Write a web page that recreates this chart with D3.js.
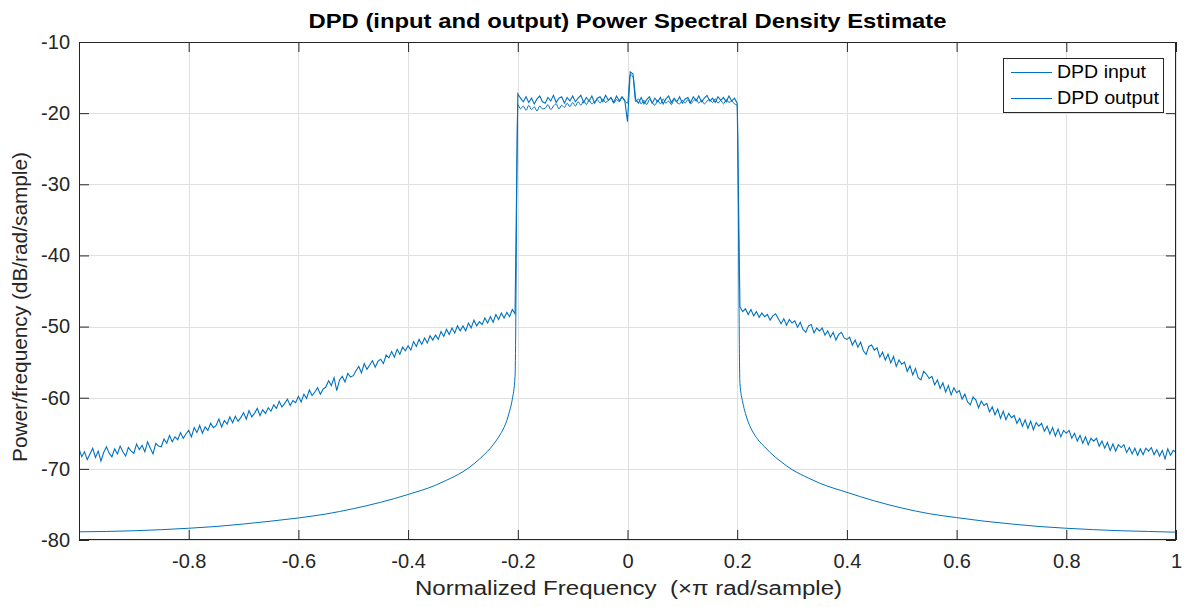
<!DOCTYPE html>
<html>
<head>
<meta charset="utf-8">
<script src="https://cdn.jsdelivr.net/npm/d3@7"></script>
<style>
  html, body { margin: 0; padding: 0; background: #ffffff; }
  svg { display: block; }
  text { font-family: "Liberation Sans", Arial, Helvetica, sans-serif; }
</style>
</head>
<body>
<svg id="chart" width="1185" height="607"></svg>
<script>
// ---------------- DATA ----------------
const titleText = "DPD (input and output) Power Spectral Density Estimate";
const xLabelText = "Normalized Frequency  (\u00D7\u03C0 rad/sample)";
const yLabelText = "Power/frequency (dB/rad/sample)";
const seriesNames = ["DPD input", "DPD output"];

const xTicks = [-0.8, -0.6, -0.4, -0.2, 0, 0.2, 0.4, 0.6, 0.8, 1];
const xTickLabels = ["-0.8", "-0.6", "-0.4", "-0.2", "0", "0.2", "0.4", "0.6", "0.8", "1"];
const yTicks = [-80, -70, -60, -50, -40, -30, -20, -10];
const yTickLabels = ["-80", "-70", "-60", "-50", "-40", "-30", "-20", "-10"];

// frequency grid step (x pi rad/sample) of the estimate
const gridStep = 0.005;

// DPD output: 401 points on the grid -1 ... 1
const outputLeft = [
  -67.2, -68.3, -67.6, -68.7, -67.9, -67.1, -68.4, -67.5, -68.9, -67.7,
  -66.9, -67.8, -68.3, -67.2, -67.9, -66.8, -67.6, -68.2, -67.0, -67.5,
  -67.8, -66.5, -67.3, -66.7, -67.6, -66.2, -67.1, -67.9, -66.4, -66.8,
  -66.9, -65.8, -66.4, -65.3, -66.2, -65.5, -65.9, -64.9, -65.7, -65.1,
  -64.6, -65.5, -64.2, -64.9, -63.9, -65.0, -64.1, -64.6, -63.6, -64.2,
  -63.9, -63.0, -64.1, -63.2, -63.7, -62.7, -63.5, -62.6, -63.3, -62.8,
  -62.1, -63.0, -61.8, -62.7, -62.2, -61.5, -62.5, -61.7, -62.2, -61.4,
  -61.9, -61.0, -61.5, -60.5, -61.3, -60.8, -60.2, -61.1, -60.4, -60.7,
  -59.8, -60.6, -59.5, -60.1, -58.9, -59.7, -59.2, -58.6, -59.5, -58.8,
  -58.5, -57.6, -58.3, -57.2, -59.0, -57.5, -57.0, -57.8, -56.6, -57.1,
  -56.9, -56.2, -55.6, -56.5, -55.2, -56.0, -55.4, -54.8, -55.7, -54.9,
  -54.6, -55.2, -54.0, -54.4, -53.5, -54.3, -53.2, -53.9, -52.9, -53.4,
  -52.7, -53.3, -52.1, -52.8, -51.8, -52.5, -51.6, -52.3, -51.3, -51.9,
  -51.2, -51.8, -50.7, -51.4, -50.4, -51.1, -50.2, -50.9, -49.9, -50.6,
  -49.9, -50.6, -49.5, -50.2, -49.1, -49.9, -49.3, -49.7, -48.8, -49.5,
  -48.6, -49.4, -48.3, -49.0, -48.1, -48.8, -48.0, -48.6, -47.6, -48.2
];
const outputBand = [
  -17.3, -17.9, -18.4, -17.7, -18.5, -17.9, -18.7, -18.0, -17.6, -18.4,
  -18.6, -17.8, -18.3, -17.5, -18.5, -17.9, -17.7, -18.6, -17.8, -18.3,
  -17.6, -18.4, -17.9, -17.5, -18.5, -17.8, -18.3, -17.6, -18.6, -17.9,
  -17.7, -18.4, -17.5, -18.2, -17.8, -18.5, -17.6, -18.3, -17.7, -18.2,
  -21.2,
  -14.2, -14.5, -18.1, -18.6, -17.8, -18.7, -18.1, -17.7, -18.6, -17.9,
  -18.4, -17.8, -18.7, -18.0, -17.6, -18.5, -17.9, -18.4, -17.7, -18.6,
  -18.0, -17.8, -18.5, -17.7, -18.3, -17.6, -18.4, -17.9, -17.5, -18.3,
  -17.9, -18.5, -17.7, -18.2, -17.8, -18.4, -17.6, -18.3, -17.9, -18.6
];
const outputRight = [
  -47.2, -47.9, -47.5, -48.3, -47.6, -48.5, -47.9, -48.7, -48.1, -48.6,
  -48.3, -49.1, -48.5, -48.2, -48.9, -49.6, -48.9, -49.8, -49.0, -49.5,
  -49.2, -50.1, -49.4, -50.4, -50.8, -49.9, -49.7, -50.9, -50.2, -50.6,
  -50.2, -51.2, -50.6, -51.5, -50.8, -51.9, -51.1, -50.8, -51.6, -51.8,
  -51.5, -52.6, -51.9, -52.9, -52.2, -53.4, -53.9, -52.8, -52.6, -53.3,
  -53.0, -54.3, -53.6, -54.7, -53.9, -55.1, -54.2, -55.6, -54.7, -55.3,
  -55.0, -56.3, -55.5, -56.8, -55.9, -57.2, -57.5, -56.3, -56.7, -57.3,
  -57.0, -58.2, -57.5, -58.7, -57.9, -59.2, -58.3, -59.6, -58.6, -59.3,
  -59.0, -60.2, -59.5, -60.6, -61.0, -59.9, -60.3, -61.4, -60.5, -61.1,
  -60.8, -62.0, -61.3, -62.4, -61.6, -62.9, -61.9, -63.1, -62.2, -62.8,
  -62.5, -63.6, -62.9, -64.0, -63.1, -64.3, -63.3, -64.5, -63.5, -64.0,
  -63.6, -64.7, -64.0, -65.1, -64.2, -65.4, -64.4, -65.5, -64.6, -65.0,
  -64.6, -65.7, -65.0, -66.1, -65.3, -66.4, -65.5, -66.6, -65.7, -66.1,
  -65.7, -66.8, -66.1, -67.1, -66.3, -67.4, -66.5, -67.5, -66.6, -67.0,
  -66.6, -67.7, -67.0, -67.9, -67.1, -68.1, -67.2, -68.0, -67.1, -67.5,
  -67.0, -68.0, -67.3, -68.2, -67.4, -68.6, -67.2, -68.1, -67.4, -67.7
];

// DPD input: smooth skirts (read at chosen frequencies) + in-band grid values
const inputLeftFreq = [-1.0, -0.95, -0.9, -0.85, -0.8, -0.75, -0.7, -0.65, -0.6, -0.55, -0.5, -0.45, -0.4, -0.35, -0.33, -0.3, -0.28, -0.26, -0.25, -0.24, -0.23, -0.22, -0.215, -0.21, -0.205];
const inputLeftPsd  = [-78.85, -78.8, -78.7, -78.55, -78.35, -78.1, -77.75, -77.35, -76.9, -76.35, -75.6, -74.7, -73.6, -72.3, -71.6, -70.4, -69.3, -67.9, -67.1, -66.1, -64.9, -63.2, -61.9, -60.2, -57.0];
const inputBand = [
  -18.8, -19.4, -19.0, -19.6, -18.9, -19.5, -19.1, -19.7, -19.0, -19.4,
  -19.3, -18.8, -19.5, -19.0, -18.7, -19.4, -18.9, -19.2, -18.6, -19.1,
  -18.5, -19.0, -18.4, -18.9, -18.3, -18.8, -18.2, -18.7, -18.4, -18.1,
  -18.6, -18.0, -18.5, -18.2, -17.9, -18.6, -18.1, -18.4, -17.8, -18.3,
  -18.6,
  -14.6, -14.9, -18.4, -18.0, -18.7, -18.2, -18.8, -18.1, -18.5, -18.9,
  -18.2, -18.7, -18.0, -18.6, -18.3, -18.8, -18.1, -18.5, -18.7, -18.2,
  -18.6, -18.1, -18.7, -18.3, -18.0, -18.6, -18.2, -18.7, -18.3, -18.1,
  -18.5, -18.0, -18.6, -18.2, -18.7, -18.1, -18.5, -18.3, -18.7, -18.9
];
const inputRightFreq = [0.205, 0.21, 0.215, 0.22, 0.23, 0.24, 0.25, 0.26, 0.28, 0.3, 0.33, 0.35, 0.4, 0.45, 0.5, 0.55, 0.6, 0.65, 0.7, 0.75, 0.8, 0.85, 0.9, 0.95, 1.0];
const inputRightPsd  = [-58.0, -60.6, -62.2, -63.4, -65.0, -66.1, -66.9, -67.7, -69.0, -70.1, -71.3, -72.0, -73.3, -74.5, -75.5, -76.3, -76.85, -77.35, -77.75, -78.1, -78.35, -78.55, -78.7, -78.8, -78.9];

// ---------------- BUILD SERIES ----------------
const outputPsd = outputLeft.concat(outputBand, outputRight);
const outputFreq = outputPsd.map((_, i) => +(-1 + i * gridStep).toFixed(3));
const bandFreq = inputBand.map((_, i) => +(-0.2 + i * gridStep).toFixed(3));
const inputFreq = inputLeftFreq.concat(bandFreq, inputRightFreq);
const inputPsd = inputLeftPsd.concat(inputBand, inputRightPsd);

const inputData = inputFreq.map((f, i) => ({ f, v: inputPsd[i] }));
const outputData = outputFreq.map((f, i) => ({ f, v: outputPsd[i] }));

// ---------------- LAYOUT ----------------
const plot = { left: 79, right: 1176, top: 42, bottom: 540 };
const lineColor = "#0072BD";
const axisColor = "#262626";
const gridColor = "#e0e0e0";

const svg = d3.select("#chart");
const x = d3.scaleLinear().domain([-1, 1]).range([plot.left, plot.right]);
const y = d3.scaleLinear().domain([-80, -10]).range([plot.bottom, plot.top]);

// grid
const grid = svg.append("g");
grid.selectAll("line.gx").data(xTicks).join("line")
  .attr("x1", d => Math.round(x(d)) + 0.5).attr("x2", d => Math.round(x(d)) + 0.5)
  .attr("y1", plot.top).attr("y2", plot.bottom)
  .attr("stroke", gridColor).attr("stroke-width", 1);
grid.selectAll("line.gy").data(yTicks).join("line")
  .attr("y1", d => Math.round(y(d)) + 0.5).attr("y2", d => Math.round(y(d)) + 0.5)
  .attr("x1", plot.left).attr("x2", plot.right)
  .attr("stroke", gridColor).attr("stroke-width", 1);

// clip
svg.append("clipPath").attr("id", "clip").append("rect")
  .attr("x", plot.left).attr("y", plot.top)
  .attr("width", plot.right - plot.left).attr("height", plot.bottom - plot.top);

const lineInput = d3.line().x(d => x(d.f)).y(d => y(d.v)).curve(d3.curveMonotoneX);
const lineOutput = d3.line().x(d => x(d.f)).y(d => y(d.v));

const lines = svg.append("g").attr("clip-path", "url(#clip)");
lines.append("path").datum(inputData).attr("d", lineInput)
  .attr("fill", "none").attr("stroke", lineColor).attr("stroke-width", 1);
lines.append("path").datum(outputData).attr("d", lineOutput)
  .attr("fill", "none").attr("stroke", lineColor).attr("stroke-width", 1.1);

// axes
const fmtX = d => xTickLabels[xTicks.indexOf(d)];
const fmtY = d => yTickLabels[yTicks.indexOf(d)];

function styleAxis(g) {
  g.select(".domain").remove();
  g.selectAll(".tick line").attr("stroke", axisColor);
  g.selectAll(".tick text").attr("fill", axisColor).style("font-size", "20px")
    .style("font-family", "'Liberation Sans', Arial, sans-serif");
}

svg.append("g").attr("transform", `translate(0,${plot.bottom})`)
  .call(d3.axisBottom(x).tickValues(xTicks).tickFormat(fmtX).tickSizeInner(-10).tickSizeOuter(0).tickPadding(14))
  .call(styleAxis);
svg.append("g").attr("transform", `translate(0,${plot.top})`)
  .call(d3.axisTop(x).tickValues(xTicks).tickFormat("").tickSizeInner(-10).tickSizeOuter(0))
  .call(styleAxis);
svg.append("g").attr("transform", `translate(${plot.left},0)`)
  .call(d3.axisLeft(y).tickValues(yTicks).tickFormat(fmtY).tickSizeInner(-10).tickSizeOuter(0).tickPadding(9))
  .call(styleAxis);
svg.append("g").attr("transform", `translate(${plot.right},0)`)
  .call(d3.axisRight(y).tickValues(yTicks).tickFormat("").tickSizeInner(-10).tickSizeOuter(0))
  .call(styleAxis);

// box
svg.append("rect")
  .attr("x", plot.left + 0.5).attr("y", plot.top + 0.5)
  .attr("width", plot.right - plot.left - 1).attr("height", plot.bottom - plot.top - 1)
  .attr("fill", "none").attr("stroke", axisColor).attr("stroke-width", 1);

// title
svg.append("text").attr("x", 627.5).attr("y", 28)
  .attr("text-anchor", "middle").style("font-size", "21px").style("font-weight", "bold")
  .attr("fill", "#000").attr("textLength", 638).attr("lengthAdjust", "spacingAndGlyphs")
  .text(titleText);

// x label
svg.append("text").attr("x", 628.5).attr("y", 595)
  .attr("text-anchor", "middle").style("font-size", "20px").style("white-space", "pre")
  .attr("fill", axisColor).attr("textLength", 427).attr("lengthAdjust", "spacingAndGlyphs")
  .text(xLabelText);

// y label
svg.append("text").attr("transform", "translate(27,307) rotate(-90)")
  .attr("text-anchor", "middle").style("font-size", "20px")
  .attr("fill", axisColor).attr("textLength", 310).attr("lengthAdjust", "spacingAndGlyphs")
  .text(yLabelText);

// legend
const leg = svg.append("g");
leg.append("rect").attr("x", 1003.5).attr("y", 58.5).attr("width", 160).attr("height", 54)
  .attr("fill", "#fff").attr("stroke", axisColor).attr("stroke-width", 1);
const legY = [72, 98];
const legLen = [89, 102];
seriesNames.forEach((name, i) => {
  leg.append("line").attr("x1", 1011).attr("x2", 1052)
    .attr("y1", legY[i] + 0.5).attr("y2", legY[i] + 0.5)
    .attr("stroke", lineColor).attr("stroke-width", 1);
  leg.append("text").attr("x", 1057).attr("y", legY[i])
    .attr("dominant-baseline", "central").style("font-size", "18px")
    .attr("fill", "#000").attr("textLength", legLen[i]).attr("lengthAdjust", "spacingAndGlyphs")
    .text(name);
});
</script>
</body>
</html>
